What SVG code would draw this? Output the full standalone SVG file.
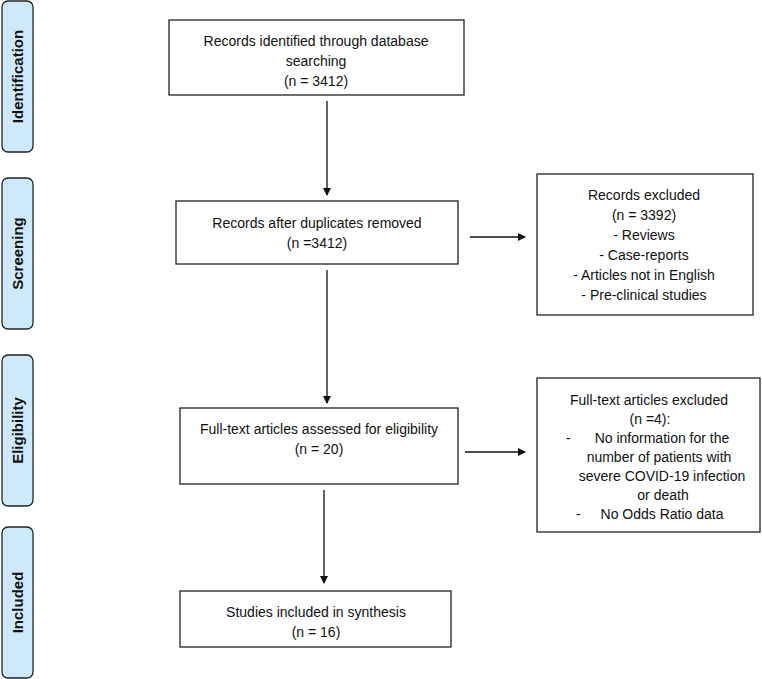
<svg xmlns="http://www.w3.org/2000/svg" width="762" height="679" viewBox="0 0 762 679">
<style>
.box{fill:#fff;stroke:#222;stroke-width:1.3}
.side{fill:#cfe9fc;stroke:#222;stroke-width:1.3}
text{font-family:"Liberation Sans",Arial,sans-serif;font-size:14px;fill:#111}
.c{text-anchor:middle}
.lab{font-weight:bold;text-anchor:middle;font-size:15px}
.ln{stroke:#111;stroke-width:1.3;fill:none}
</style>
<defs>
<marker id="ah" markerWidth="8" markerHeight="8" refX="7" refY="4" orient="auto" markerUnits="userSpaceOnUse">
<path d="M0,0 L8,4 L0,8 Z" fill="#111"/>
</marker>
</defs>
<g id="stage-identification">
<rect class="side" x="2" y="1" width="31" height="151" rx="6"/>
<text class="lab" transform="translate(23,76.5) rotate(-90)">Identification</text>
</g>
<g id="stage-screening">
<rect class="side" x="2" y="178" width="31" height="151" rx="6"/>
<text class="lab" transform="translate(23,253.5) rotate(-90)">Screening</text>
</g>
<g id="stage-eligibility">
<rect class="side" x="2" y="355" width="31" height="151" rx="6"/>
<text class="lab" transform="translate(23,430.5) rotate(-90)">Eligibility</text>
</g>
<g id="stage-included">
<rect class="side" x="2" y="527" width="31" height="151" rx="6"/>
<text class="lab" transform="translate(23,602.5) rotate(-90)">Included</text>
</g>
<g id="identified">
<rect class="box" x="169" y="20" width="295" height="75"/>
<text class="c" x="316" y="46">Records identified through database</text>
<text class="c" x="316" y="66">searching</text>
<text class="c" x="316" y="86">(n = 3412)</text>
</g>
<g id="after-duplicates">
<rect class="box" x="176" y="201" width="282" height="63"/>
<text class="c" x="317" y="228">Records after duplicates removed</text>
<text class="c" x="317" y="248">(n =3412)</text>
</g>
<g id="records-excluded">
<rect class="box" x="537" y="174" width="216" height="141"/>
<text class="c" x="644" y="200">Records excluded</text>
<text class="c" x="644" y="220">(n = 3392)</text>
<text class="c" x="644" y="240">- Reviews</text>
<text class="c" x="644" y="260">- Case-reports</text>
<text class="c" x="644" y="280">- Articles not in English</text>
<text class="c" x="644" y="300">- Pre-clinical studies</text>
</g>
<g id="full-text-assessed">
<rect class="box" x="180" y="408" width="278" height="76"/>
<text class="c" x="319" y="434">Full-text articles assessed for eligibility</text>
<text class="c" x="319" y="454">(n = 20)</text>
</g>
<g id="full-text-excluded">
<rect class="box" x="537" y="378" width="223" height="154"/>
<text class="c" x="649" y="405">Full-text articles excluded</text>
<text class="c" x="650" y="424">(n =4):</text>
<text x="566" y="443">-</text>
<text class="c" x="662" y="443">No information for the</text>
<text class="c" x="659" y="462">number of patients with</text>
<text class="c" x="662" y="481">severe COVID-19 infection</text>
<text class="c" x="663" y="500">or death</text>
<text x="576" y="519">-</text>
<text class="c" x="662" y="519">No Odds Ratio data</text>
</g>
<g id="included-synthesis">
<rect class="box" x="180" y="591" width="271" height="56"/>
<text class="c" x="316" y="617">Studies included in synthesis</text>
<text class="c" x="316" y="637">(n = 16)</text>
</g>
<g id="connectors">
<line class="ln" x1="327" y1="101" x2="327" y2="195" marker-end="url(#ah)"/>
<line class="ln" x1="327" y1="270" x2="327" y2="403" marker-end="url(#ah)"/>
<line class="ln" x1="324" y1="490" x2="324" y2="583" marker-end="url(#ah)"/>
<line class="ln" x1="470" y1="237" x2="525" y2="237" marker-end="url(#ah)"/>
<line class="ln" x1="465" y1="452" x2="525" y2="452" marker-end="url(#ah)"/>
</g>
</svg>
